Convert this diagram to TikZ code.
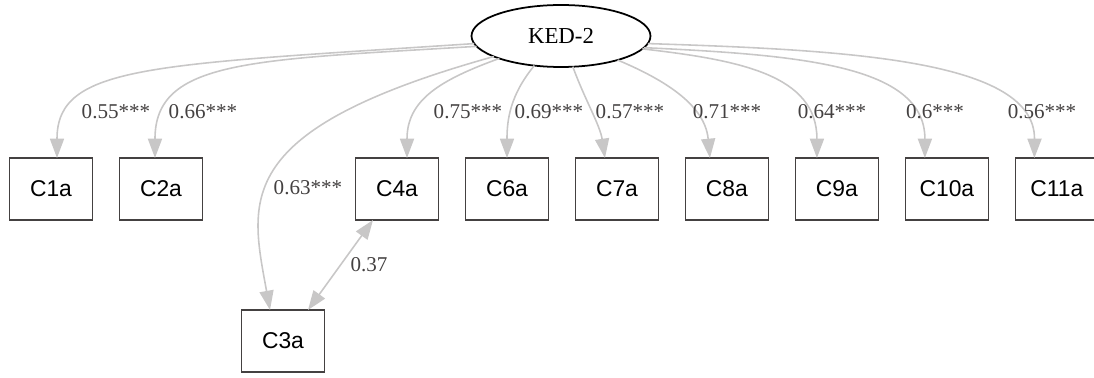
\documentclass[tikz,border=0pt]{standalone}
\usepackage{fontspec}
\setmainfont{Liberation Serif}
\setsansfont{Liberation Sans}
\definecolor{edgegrey}{cmyk}{0.00,0.00,0.00,0.25}
\definecolor{boxline}{cmyk}{0.00,0.00,0.00,0.85}
\definecolor{labeltext}{cmyk}{0.00,0.00,0.00,0.85}
\usetikzlibrary{arrows.meta}
\usetikzlibrary{shapes.geometric}
\usetikzlibrary{positioning}
\tikzstyle{base}=[x=0.02cm, y=0.02cm, inner sep=0pt, outer sep=0pt]
\tikzstyle{factor}=[draw=black, ellipse, line width=1pt, minimum width=3.58cm, minimum height=1.24cm, font=\fontsize{13}{15}\selectfont]
\tikzstyle{item}=[draw=boxline, rectangle, line width=1pt, minimum width=1.66cm, minimum height=1.24cm, font=\sffamily\fontsize{13}{15}\selectfont]
\tikzstyle{load}=[draw=edgegrey, line width=0.9pt, -{Triangle[length=11pt,width=8pt]}]
\tikzstyle{weight}=[text=labeltext, font=\fontsize{12}{14}\selectfont]

\begin{document}
\begin{tikzpicture}[base]
    \useasboundingbox (0,0) rectangle (1094,-378);
    % latent factor
    \node [factor] (ked) at (561,-36) {KED-2};
    % indicators
    \node [item] (c1) at (51,-189) {C1a};
    \node [item, right=0.54cm of c1] (c2) {C2a};
    \node [item] (c4) at (397,-189) {C4a};
    \node [item, right=0.54cm of c4] (c6) {C6a};
    \node [item, right=0.54cm of c6] (c7) {C7a};
    \node [item, right=0.54cm of c7] (c8) {C8a};
    \node [item, right=0.54cm of c8] (c9) {C9a};
    \node [item, right=0.54cm of c9] (c10) {C10a};
    \node [item, right=0.54cm of c10] (c11) {C11a};
    \node [item] (c3) at (283,-341) {C3a};
    % loadings
    \draw [load] (ked.185) .. controls (150,-65) and (57,-65) .. ([xshift=0.12cm]c1.north);
    \draw [load] (ked.187) .. controls (250,-60) and (155,-60) .. ([xshift=-0.12cm]c2.north);
    \draw [load] (ked.197) .. controls (230,-130) and (250,-200) .. ([xshift=-0.26cm]c3.north);
    \draw [load] (ked.200) .. controls (440,-80) and (407,-100) .. ([xshift=0.2cm]c4.north);
    \draw [load] (ked.228) .. controls (510,-95) and (507,-120) .. (c6.north);
    \draw [load] (ked.291) .. controls (585,-100) and (600,-125) .. ([xshift=-0.24cm]c7.north);
    \draw [load] (ked.337) .. controls (665,-80) and (705,-105) .. ([xshift=-0.34cm]c8.north);
    \draw [load] (ked.351) .. controls (740,-60) and (817,-75) .. ([xshift=-0.4cm]c9.north);
    \draw [load] (ked.352) .. controls (800,-55) and (925,-65) .. ([xshift=-0.44cm]c10.north);
    \draw [load] (ked.355) .. controls (850,-50) and (1035,-60) .. ([xshift=-0.45cm]c11.north);
    % residual covariance
    \draw [load, {Triangle[length=11pt,width=8pt]}-{Triangle[length=11pt,width=8pt]}] ([xshift=0.5cm]c3.north) -- ([xshift=-0.48cm]c4.south);
    % estimates
    \node [weight] (w1) at (116,-112) {0.55***};
    \node [weight] (w2) at (203,-112) {0.66***};
    \node [weight] (w3) at (308,-188) {0.63***};
    \node [weight] (w4) at (468,-112) {0.75***};
    \node [weight] (w6) at (549,-112) {0.69***};
    \node [weight] (w7) at (630,-112) {0.57***};
    \node [weight] (w8) at (727,-112) {0.71***};
    \node [weight] (w9) at (832,-112) {0.64***};
    \node [weight] (w10) at (935,-112) {0.6***};
    \node [weight] (w11) at (1042,-112) {0.56***};
    \node [weight] (w34) at (369,-265) {0.37};
\end{tikzpicture}
\end{document}
